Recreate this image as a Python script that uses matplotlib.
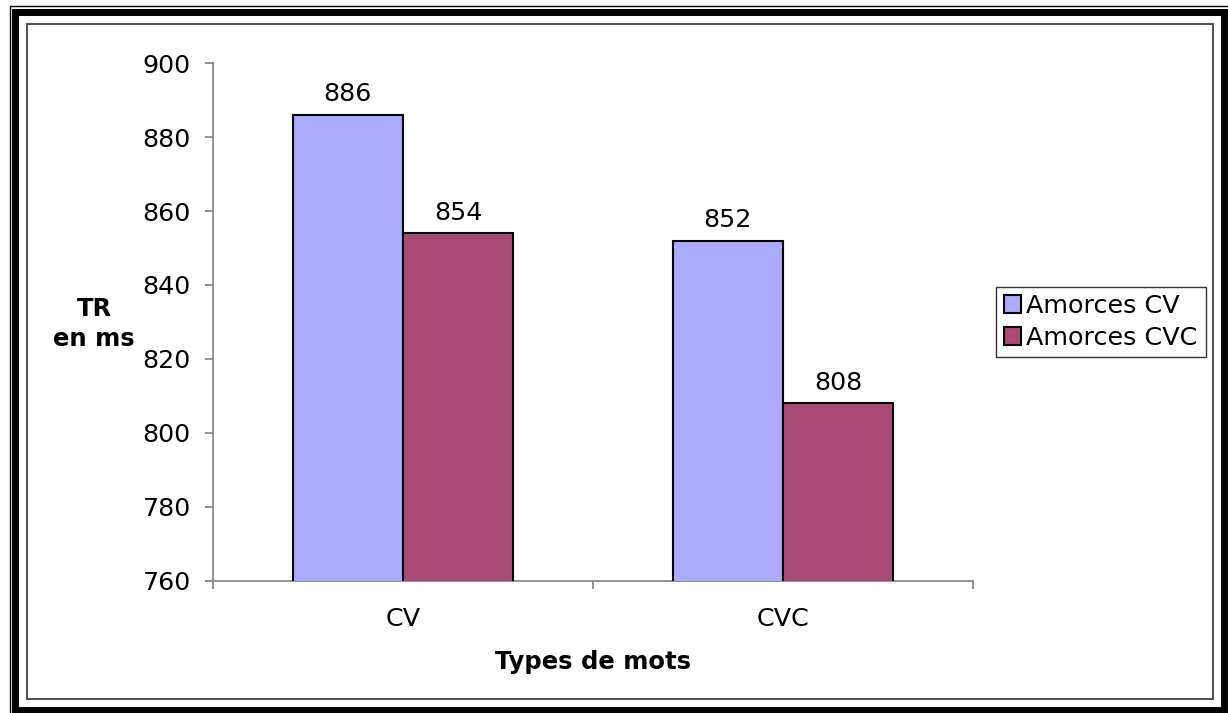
import matplotlib.pyplot as plt
from matplotlib.patches import Rectangle
import numpy as np

# Data
categories = ["CV", "CVC"]
series_names = ["Amorces CV", "Amorces CVC"]
amorces_cv = [886, 852]
amorces_cvc = [854, 808]
y_ticks = [760, 780, 800, 820, 840, 860, 880, 900]

W, H = 1228, 713
fig = plt.figure(figsize=(W / 100, H / 100), dpi=100)
plt.rcParams['font.family'] = 'DejaVu Sans'
fs = 18.3

# plot area in pixel coords
left, right, top, bottom = 213, 973, 63, 581
ax = fig.add_axes([left / W, 1 - bottom / H, (right - left) / W, (bottom - top) / H])

x = np.arange(len(categories))
bw = 0.29
b1 = ax.bar(x - bw / 2, amorces_cv, bw, color='#AAAAFF', edgecolor='black',
            linewidth=1.5, label=series_names[0], zorder=3)
b2 = ax.bar(x + bw / 2, amorces_cvc, bw, color='#A94A76', edgecolor='black',
            linewidth=1.5, label=series_names[1], zorder=3)

for bars in (b1, b2):
    for b in bars:
        ax.annotate(str(int(b.get_height())), (b.get_x() + b.get_width() / 2, b.get_height()),
                    xytext=(0, 6), textcoords='offset points', ha='center', va='bottom',
                    fontsize=fs)

ax.set_ylim(760, 900)
ax.set_xlim(-0.5, 1.5)
ax.set_yticks(y_ticks)
ax.set_yticklabels([str(v) for v in y_ticks], fontsize=fs)

# category ticks between categories, labels at centres
ax.set_xticks([-0.5, 0.5, 1.5])
ax.set_xticklabels([])
ax.set_xticks(x, minor=True)
ax.set_xticklabels(categories, minor=True, fontsize=fs)
ax.tick_params(axis='x', which='major', length=6, color='#808080', width=1.2)
ax.tick_params(axis='x', which='minor', length=0, pad=19)
ax.tick_params(axis='y', length=6, color='#808080', width=1.2, pad=10)

for s in ['top', 'right']:
    ax.spines[s].set_visible(False)
for s in ['left', 'bottom']:
    ax.spines[s].set_color('#808080')
    ax.spines[s].set_linewidth(1.2)

fig.text(593 / W, 1 - 662 / H, "Types de mots", ha='center', va='center',
         fontsize=17.5, fontweight='bold')
fig.text(94 / W, 1 - 324 / H, "TR\nen ms", ha='center', va='center',
         fontsize=17.5, fontweight='bold', linespacing=1.35)

leg = fig.legend(handles=[b1, b2], loc='center left',
                 bbox_to_anchor=(996 / W, 1 - 322 / H), fontsize=fs,
                 frameon=True, fancybox=False, shadow=False,
                 handlelength=0.7, handleheight=0.7, handletextpad=0.2,
                 borderpad=0.3, labelspacing=0.3, borderaxespad=0)
leg.get_frame().set_edgecolor('black')
leg.get_frame().set_linewidth(1.0)

# chart frame
def frame(x0, y0, x1, y1, lw, color):
    fig.patches.append(Rectangle((x0 / W, 1 - y1 / H), (x1 - x0) / W, (y1 - y0) / H,
                                 transform=fig.transFigure, fill=False,
                                 edgecolor=color, linewidth=lw))

frame(26.5, 23.5, 1213, 699, 1.5, '#555555')
frame(14.5, 12, 1223.5, 710, 5, 'black')
frame(9.5, 5.5, 1230, 720, 1, 'black')

fig.savefig('out.png', dpi=100)
